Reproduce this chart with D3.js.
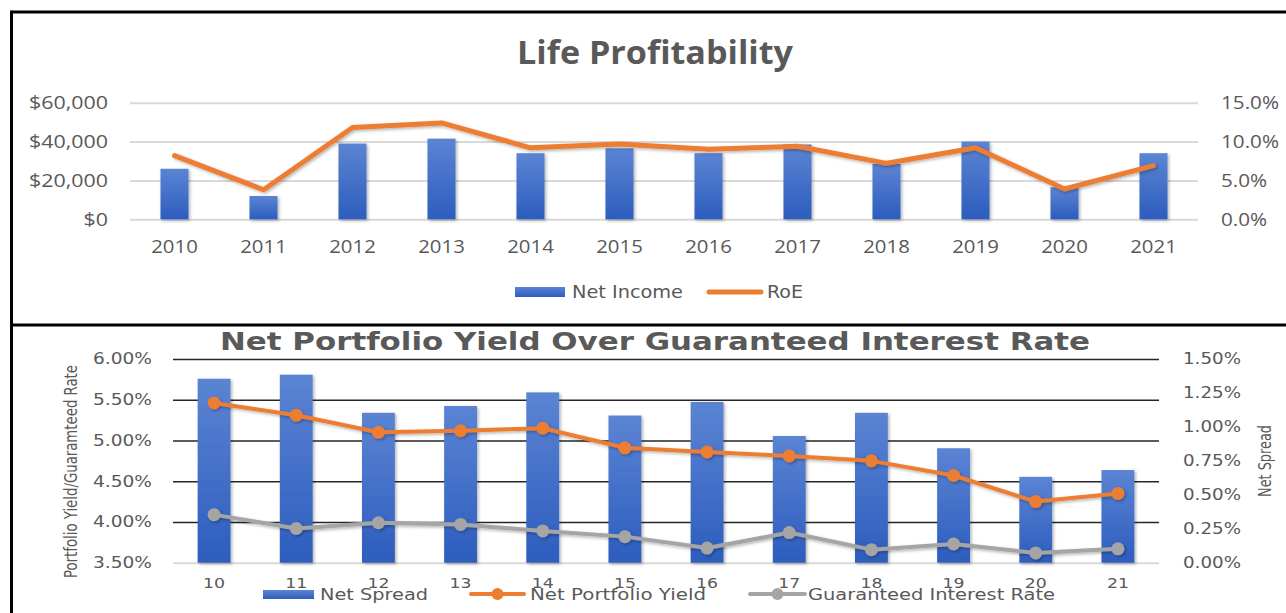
<!DOCTYPE html>
<html><head><meta charset="utf-8">
<script src="https://cdn.jsdelivr.net/npm/d3@7"></script>
<style>body{margin:0;background:#fff;overflow:hidden;} svg{display:block;}</style>
</head><body>
<script>
// ---------- Data: Life Profitability ----------
const years = ["2010","2011","2012","2013","2014","2015","2016","2017","2018","2019","2020","2021"];
const netIncome = [26000, 12000, 39000, 41500, 34000, 36500, 34000, 38500, 28500, 40000, 16500, 34000];
const roe = [8.2, 3.8, 11.8, 12.4, 9.2, 9.7, 9.0, 9.4, 7.2, 9.2, 3.9, 6.9];
const incomeTicks = [0, 20000, 40000, 60000];
const roeTicks = [0, 5, 10, 15];

// ---------- Data: Net Portfolio Yield Over Guaranteed Interest Rate ----------
const yearsShort = ["10","11","12","13","14","15","16","17","18","19","20","21"];
const netSpread = [1.35, 1.38, 1.10, 1.15, 1.25, 1.08, 1.18, 0.93, 1.10, 0.84, 0.63, 0.68];
const portfolioYield = [5.46, 5.31, 5.10, 5.12, 5.15, 4.91, 4.86, 4.81, 4.75, 4.57, 4.25, 4.35];
const guaranteedRate = [4.09, 3.92, 3.99, 3.97, 3.89, 3.82, 3.68, 3.87, 3.66, 3.73, 3.62, 3.67];
const yieldTicks = [3.5, 4.0, 4.5, 5.0, 5.5, 6.0];
const spreadTicks = [0, 0.25, 0.5, 0.75, 1.0, 1.25, 1.5];

const W = 1286, H = 613;
const TXT = "#595959";
const ORANGE = "#ED7D31", GRAY = "#A5A5A5";

const svg = d3.select("body").append("svg").attr("width", W).attr("height", H);
svg.append("rect").attr("width", W).attr("height", H).attr("fill", "#fff");

const defs = svg.append("defs");
const grad = defs.append("linearGradient").attr("id", "barGrad").attr("x1", 0).attr("y1", 0).attr("x2", 0).attr("y2", 1);
grad.append("stop").attr("offset", "0%").attr("stop-color", "#5b84d3");
grad.append("stop").attr("offset", "100%").attr("stop-color", "#2d5dbe");
const sh = defs.append("filter").attr("id", "shadow").attr("x", "-20%").attr("y", "-20%").attr("width", "150%").attr("height", "150%");
sh.append("feDropShadow").attr("dx", 1.5).attr("dy", 1.5).attr("stdDeviation", 1.5).attr("flood-color", "#000").attr("flood-opacity", 0.3);

function stretch(sel, refNode, targetW) {
  const f = targetW / refNode.getComputedTextLength();
  sel.each(function () {
    const w = this.getComputedTextLength();
    d3.select(this).attr("textLength", w * f).attr("lengthAdjust", "spacingAndGlyphs");
  });
}

// ================= TOP CHART =================
const topG = svg.append("g");
const tFont = "'Open Sans', sans-serif";
const tx = d3.scaleBand().domain(years).range([130, 1198]).padding(0);
const tyL = d3.scaleLinear().domain([0, 60000]).range([219.3, 102.7]);
const tyR = d3.scaleLinear().domain([0, 15]).range([219.3, 102.7]);
const tBarW = tx.bandwidth() * 0.315;

const tLeft = topG.append("g").attr("transform", "translate(130,0)")
  .call(d3.axisLeft(tyL).tickValues(incomeTicks).tickSizeInner(-(1198 - 130)).tickSizeOuter(0).tickPadding(22)
    .tickFormat(d => "$" + d3.format(",")(d)));
tLeft.select(".domain").remove();
tLeft.selectAll(".tick line").attr("stroke", "#d9d9d9").attr("stroke-width", 2);
tLeft.selectAll("text").attr("fill", TXT).attr("font-family", tFont).attr("font-size", 18);
stretch(tLeft.selectAll("text"), tLeft.selectAll("text").nodes()[3], 79);

const tRight = topG.append("g").attr("transform", "translate(1198,0)")
  .call(d3.axisRight(tyR).tickValues(roeTicks).tickSize(0).tickPadding(23).tickFormat(d => d.toFixed(1) + "%"));
tRight.select(".domain").remove();
tRight.selectAll("text").attr("fill", TXT).attr("font-family", tFont).attr("font-size", 18);
stretch(tRight.selectAll("text"), tRight.selectAll("text").nodes()[3], 58);

const tBottom = topG.append("g").attr("transform", "translate(0,219.3)")
  .call(d3.axisBottom(tx).tickSize(0).tickPadding(20.5));
tBottom.select(".domain").remove();
tBottom.selectAll("text").attr("fill", TXT).attr("font-family", tFont).attr("font-size", 18);
stretch(tBottom.selectAll("text"), tBottom.selectAll("text").nodes()[0], 46.6);

topG.append("g").selectAll("rect").data(netIncome).join("rect")
  .attr("x", (d, i) => tx(years[i]) + (tx.bandwidth() - tBarW) / 2)
  .attr("y", d => tyL(d)).attr("width", tBarW).attr("height", d => tyL(0) - tyL(d))
  .attr("fill", "url(#barGrad)").attr("filter", "url(#shadow)");

topG.append("path").datum(roe)
  .attr("d", d3.line().x((d, i) => tx(years[i]) + tx.bandwidth() / 2).y(d => tyR(d)))
  .attr("fill", "none").attr("stroke", ORANGE).attr("stroke-width", 5)
  .attr("stroke-linejoin", "round").attr("stroke-linecap", "round").attr("filter", "url(#shadow)");

const t1 = topG.append("text").attr("x", 655).attr("y", 64.3).attr("text-anchor", "middle")
  .attr("font-family", tFont).attr("font-weight", 700).attr("font-size", 32).attr("fill", TXT)
  .text("Life Profitability");
stretch(t1, t1.node(), 276);

const narrow = "'Liberation Sans Narrow','DejaVu Sans Condensed',sans-serif";
const lg1 = topG.append("g");
lg1.append("rect").attr("x", 515).attr("y", 287).attr("width", 50).attr("height", 10).attr("fill", "url(#barGrad)");
const l1a = lg1.append("text").attr("x", 572).attr("y", 298).attr("font-family", narrow)
  .attr("font-size", 17).attr("fill", TXT).text("Net Income");
stretch(l1a, l1a.node(), 111);
lg1.append("line").attr("x1", 709).attr("x2", 761).attr("y1", 292).attr("y2", 292)
  .attr("stroke", ORANGE).attr("stroke-width", 5).attr("stroke-linecap", "round");
const l1b = lg1.append("text").attr("x", 767).attr("y", 298).attr("font-family", narrow)
  .attr("font-size", 17).attr("fill", TXT).text("RoE");
stretch(l1b, l1b.node(), 36);

// ================= BOTTOM CHART =================
const bot = svg.append("g");
const bFont = "'DejaVu Sans', sans-serif";
const bx = d3.scaleBand().domain(yearsShort).range([173, 1159]).padding(0);
const byL = d3.scaleLinear().domain([3.5, 6.0]).range([562.7, 359]);
const byR = d3.scaleLinear().domain([0, 1.5]).range([562.7, 358.3]);
const bBarW = bx.bandwidth() * 0.4;

const bLeft = bot.append("g").attr("transform", "translate(173,0)")
  .call(d3.axisLeft(byL).tickValues(yieldTicks).tickSizeInner(-(1159 - 173)).tickSizeOuter(0).tickPadding(21)
    .tickFormat(d => d.toFixed(2) + "%"));
bLeft.select(".domain").remove();
bLeft.selectAll(".tick line").attr("stroke", d => d === 3.5 ? "#d9d9d9" : "#262626").attr("stroke-width", d => d === 3.5 ? 2 : 1.5);
bLeft.selectAll("text").attr("fill", TXT).attr("font-family", bFont).attr("font-size", 15);
stretch(bLeft.selectAll("text"), bLeft.selectAll("text").nodes()[5], 59);

const bRight = bot.append("g").attr("transform", "translate(1159,0)")
  .call(d3.axisRight(byR).tickValues(spreadTicks).tickSize(0).tickPadding(24).tickFormat(d => d.toFixed(2) + "%"));
bRight.select(".domain").remove();
bRight.selectAll("text").attr("fill", TXT).attr("font-family", bFont).attr("font-size", 15);
stretch(bRight.selectAll("text"), bRight.selectAll("text").nodes()[6], 58);

bot.append("g").selectAll("rect").data(netSpread).join("rect")
  .attr("x", (d, i) => bx(yearsShort[i]) + (bx.bandwidth() - bBarW) / 2)
  .attr("y", d => byR(d)).attr("width", bBarW).attr("height", d => byR(0) - byR(d))
  .attr("fill", "url(#barGrad)").attr("filter", "url(#shadow)");

const bBottom = bot.append("g").attr("transform", "translate(0,562.7)")
  .call(d3.axisBottom(bx).tickSize(0).tickPadding(15));
bBottom.select(".domain").remove();
bBottom.selectAll("text").attr("fill", TXT).attr("font-family", bFont).attr("font-size", 14);
stretch(bBottom.selectAll("text"), bBottom.selectAll("text").nodes()[0], 22);

function series(data, color) {
  const g = bot.append("g").attr("filter", "url(#shadow)");
  g.append("path").datum(data)
    .attr("d", d3.line().x((d, i) => bx(yearsShort[i]) + bx.bandwidth() / 2).y(d => byL(d)))
    .attr("fill", "none").attr("stroke", color).attr("stroke-width", 4).attr("stroke-linejoin", "round");
  g.selectAll("circle").data(data).join("circle")
    .attr("cx", (d, i) => bx(yearsShort[i]) + bx.bandwidth() / 2).attr("cy", d => byL(d))
    .attr("r", 6.5).attr("fill", color);
}
series(guaranteedRate, GRAY);
series(portfolioYield, ORANGE);

const t2 = bot.append("text").attr("x", 655).attr("y", 350).attr("text-anchor", "middle")
  .attr("font-family", bFont).attr("font-weight", 700).attr("font-size", 24).attr("fill", TXT)
  .text("Net Portfolio Yield Over Guaranteed Interest Rate");
stretch(t2, t2.node(), 870);

const yt1 = bot.append("text").attr("transform", "translate(77,471.5) rotate(-90)").attr("text-anchor", "middle")
  .attr("font-family", narrow).attr("font-size", 17).attr("fill", TXT).text("Portfolio Yield/Guaramteed Rate");
stretch(yt1, yt1.node(), 213);
const yt2 = bot.append("text").attr("transform", "translate(1271,461) rotate(-90)").attr("text-anchor", "middle")
  .attr("font-family", narrow).attr("font-size", 17).attr("fill", TXT).text("Net Spread");
stretch(yt2, yt2.node(), 72);

const lg2 = bot.append("g");
lg2.append("rect").attr("x", 263).attr("y", 590).attr("width", 51).attr("height", 9).attr("fill", "url(#barGrad)");
const l2a = lg2.append("text").attr("x", 320).attr("y", 600).attr("font-family", bFont).attr("font-size", 16).attr("fill", TXT).text("Net Spread");
stretch(l2a, l2a.node(), 108);
lg2.append("line").attr("x1", 471).attr("x2", 524).attr("y1", 594).attr("y2", 594).attr("stroke", ORANGE).attr("stroke-width", 4).attr("stroke-linecap", "round");
lg2.append("circle").attr("cx", 497.5).attr("cy", 594).attr("r", 6).attr("fill", ORANGE);
const l2b = lg2.append("text").attr("x", 530).attr("y", 600).attr("font-family", bFont).attr("font-size", 16).attr("fill", TXT).text("Net Portfolio Yield");
stretch(l2b, l2b.node(), 176);
lg2.append("line").attr("x1", 750).attr("x2", 805).attr("y1", 594).attr("y2", 594).attr("stroke", GRAY).attr("stroke-width", 4).attr("stroke-linecap", "round");
lg2.append("circle").attr("cx", 777.5).attr("cy", 594).attr("r", 6).attr("fill", GRAY);
const l2c = lg2.append("text").attr("x", 808).attr("y", 600).attr("font-family", bFont).attr("font-size", 16).attr("fill", TXT).text("Guaranteed Interest Rate");
stretch(l2c, l2c.node(), 247);

// ---------- frames ----------
svg.append("line").attr("x1", 11.5).attr("x2", W).attr("y1", 12).attr("y2", 12).attr("stroke", "#000").attr("stroke-width", 3);
svg.append("line").attr("x1", 11.5).attr("x2", 11.5).attr("y1", 10.5).attr("y2", H).attr("stroke", "#000").attr("stroke-width", 3);
svg.append("line").attr("x1", 10).attr("x2", W).attr("y1", 325).attr("y2", 325).attr("stroke", "#000").attr("stroke-width", 3);
</script>
</body></html>
